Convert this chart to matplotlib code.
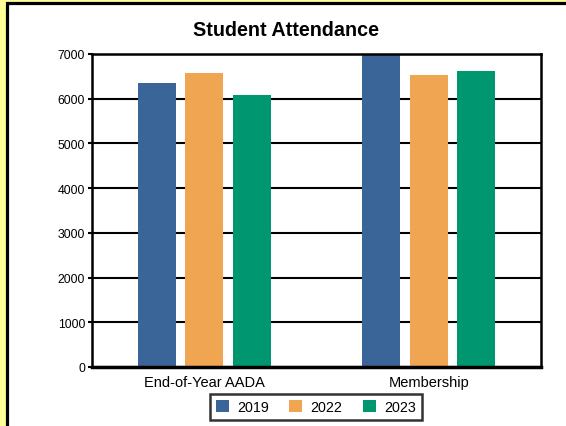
import numpy as np
import matplotlib
matplotlib.use("Agg")
import matplotlib.pyplot as plt
from matplotlib.patches import Rectangle

plt.rcParams['font.family'] = ['Liberation Sans', 'DejaVu Sans']

# --- data ---
categories = ["End-of-Year AADA", "Membership"]
years = ["2019", "2022", "2023"]
values_2019 = [6350, 7000]
values_2022 = [6570, 6535]
values_2023 = [6080, 6615]
colors = ["#3A6598", "#F0A552", "#009670"]
y_ticks = [0, 1000, 2000, 3000, 4000, 5000, 6000, 7000]

W, H = 566, 427
fig = plt.figure(figsize=(W / 100, H / 100), dpi=100)
fig.patch.set_facecolor("#FFFF99")

# white panel with black frame (cut off at right/bottom)
fig.add_artist(Rectangle((6.5 / W, -0.05), 1.1, 1 - 3.5 / H + 0.05,
                         transform=fig.transFigure, facecolor="white",
                         edgecolor="black", linewidth=2.3, zorder=0))

ax = fig.add_axes([92 / W, 59 / H, 449 / W, 313 / H])
ax.set_facecolor("none")

x = np.arange(len(categories))
offset = 0.212
width = 0.17
series = [values_2019, values_2022, values_2023]
for i, (yr, vals) in enumerate(zip(years, series)):
    ax.bar(x + (i - 1) * offset, vals, width=width, color=colors[i],
           label=yr, zorder=3)

ax.set_xlim(-0.5, 1.5)
ax.set_ylim(0, 7000)
ax.set_yticks(y_ticks)
ax.set_xticks(x)
ax.set_xticklabels(categories, fontsize=10.5)
ax.tick_params(axis='y', labelsize=8.8, length=3, width=1.5, pad=2)
ax.tick_params(axis='x', length=0, pad=6)
ax.yaxis.grid(True, color="black", linewidth=1.5, zorder=1)
ax.set_axisbelow(True)
for s in ax.spines.values():
    s.set_linewidth(1.8)
    s.set_zorder(4)
ax.spines['bottom'].set_linewidth(2.5)

fig.text(286 / W, 1 - 31 / H, "Student Attendance", ha="center", va="center",
         fontsize=14.2, fontweight="bold")

leg = fig.legend(loc="center", bbox_to_anchor=(316 / W, 1 - 408 / H), ncol=3,
                 fontsize=10.3, frameon=True, fancybox=False, handlelength=0.9,
                 handleheight=0.9, handletextpad=0.6, columnspacing=1.4,
                 borderpad=0.4)
leg.get_frame().set_edgecolor("black")
leg.get_frame().set_linewidth(1.8)

fig.savefig("out.png", dpi=100, facecolor=fig.get_facecolor())
